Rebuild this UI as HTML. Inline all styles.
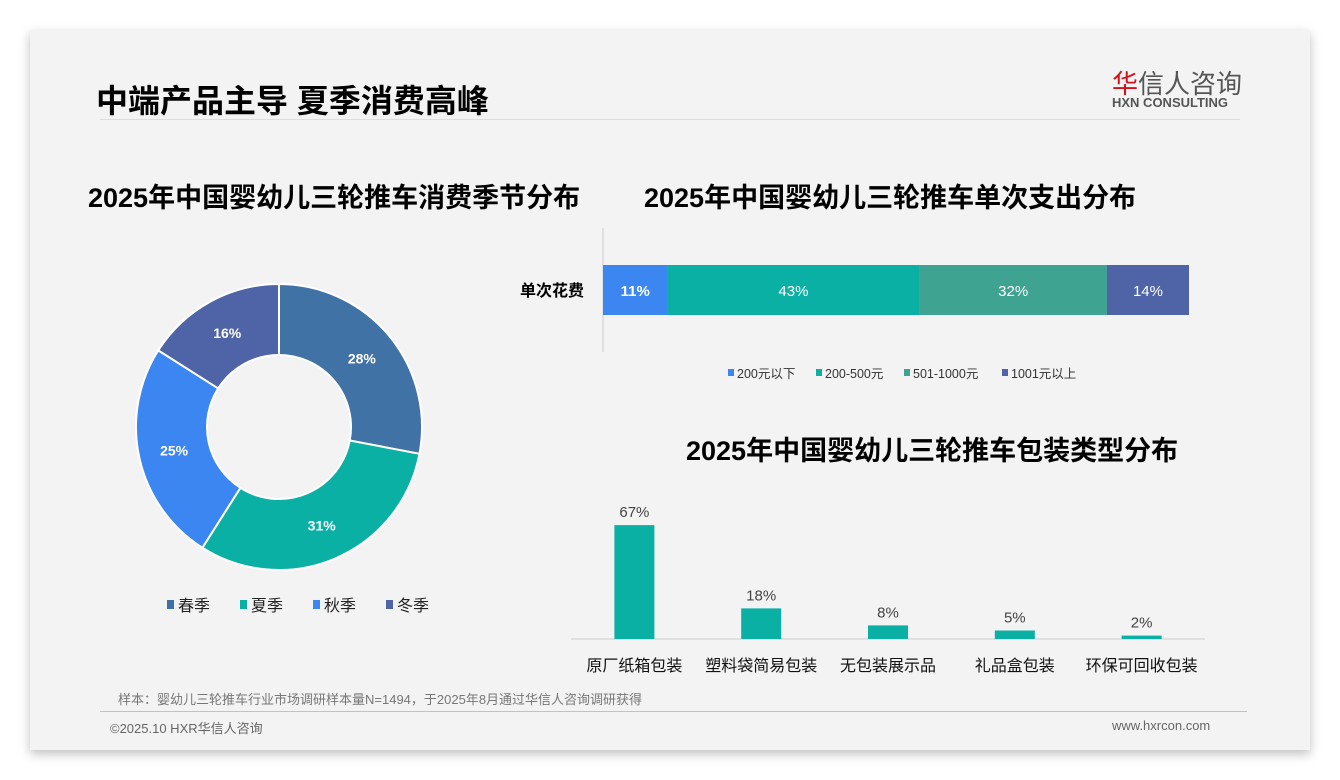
<!DOCTYPE html>
<html><head><meta charset="utf-8"><style>
body{margin:0;width:1340px;height:780px;background:#fff;position:relative;overflow:hidden;font-family:"Liberation Sans","Noto Sans CJK SC",sans-serif}
.card{position:absolute;left:30px;top:30px;width:1280px;height:720px;background:#f3f3f3;box-shadow:0 4px 10px rgba(0,0,0,.25)}
.t{position:absolute;white-space:nowrap}
</style></head><body>
<div class="card"></div>
<div class="t" style="left:96px;top:76px;font-size:32px;font-weight:bold;color:#000">中端产品主导 夏季消费高峰</div>
<div class="t" style="left:1112px;top:64px;font-size:26px;color:#555"><span style="color:#d0121b">华</span>信人咨询</div>
<div class="t" style="left:1112px;top:95px;font-size:13px;font-weight:bold;color:#555">HXN CONSULTING</div>
<div style="position:absolute;left:100px;top:119px;width:1140px;height:1px;background:#ddd"></div>
<div class="t" style="left:88px;top:176px;font-size:27px;font-weight:bold">2025年中国婴幼儿三轮推车消费季节分布</div>
<div class="t" style="left:644px;top:176px;font-size:27px;font-weight:bold">2025年中国婴幼儿三轮推车单次支出分布</div>
<div class="t" style="left:686px;top:429px;font-size:27px;font-weight:bold">2025年中国婴幼儿三轮推车包装类型分布</div>
<svg id="s" width="1340" height="780" style="position:absolute;left:0;top:0"></svg>
<div class="t" style="left:118px;top:689px;font-size:13px;color:#777">样本：婴幼儿三轮推车行业市场调研样本量N=1494，于2025年8月通过华信人咨询调研获得</div>
<div style="position:absolute;left:100px;top:711px;width:1147px;height:1px;background:#b8c4d4"></div>
<div class="t" style="left:110px;top:718px;font-size:13px;color:#666">©2025.10 HXR华信人咨询</div>
<div class="t" style="left:1112px;top:718px;font-size:13px;color:#666">www.hxrcon.com</div>
<script>
const seasons=['春季','夏季','秋季','冬季'];
const seasonVals=[28,31,25,16];
const seasonColors=['#4172a6','#0bb0a5','#3b86f0','#4e64a6'];
const spendCats=['200元以下','200-500元','501-1000元','1001元以上'];
const spendVals=[11,43,32,14];
const spendColors=['#3b86f0','#0bb0a5','#3ea390','#4e64a6'];
const packCats=['原厂纸箱包装','塑料袋简易包装','无包装展示品','礼品盒包装','环保可回收包装'];
const packVals=[67,18,8,5,2];
const S=document.getElementById('s'),NS='http://www.w3.org/2000/svg';
function mk(t,a,txt){const e=document.createElementNS(NS,t);for(const k in a)e.setAttribute(k,a[k]);if(txt!=null)e.textContent=txt;S.appendChild(e);return e;}
const cx=279,cy=427,R=143,r=72;let tot=seasonVals.reduce((a,b)=>a+b,0),a0=-Math.PI/2;
seasonVals.forEach((v,i)=>{const a1=a0+v/tot*2*Math.PI,lg=a1-a0>Math.PI?1:0;
const p=(rr,a)=>[cx+rr*Math.cos(a),cy+rr*Math.sin(a)];
const [x1,y1]=p(R,a0),[x2,y2]=p(R,a1),[x3,y3]=p(r,a1),[x4,y4]=p(r,a0);
const e=mk('path',{d:`M${x1},${y1}A${R},${R} 0 ${lg} 1 ${x2},${y2}L${x3},${y3}A${r},${r} 0 ${lg} 0 ${x4},${y4}Z`,fill:seasonColors[i],stroke:'#fff','stroke-width':2});


const am=(a0+a1)/2,[lx,ly]=p((R+r)/2,am);
const l=mk('text',{x:lx,y:ly+5,'text-anchor':'middle','font-size':14,'font-weight':'bold',fill:'#fff'},v+'%');


a0=a1;});
seasons.forEach((s,i)=>{const x=167+i*73;
const m=mk('rect',{x:x,y:600,width:7,height:9,fill:seasonColors[i]});


const t=mk('text',{x:x+11,y:611,'font-size':16,fill:'#222'},s);

});
const bx0=603,bw=586,sum=spendVals.reduce((a,b)=>a+b,0);let cur=bx0;
mk('line',{x1:603,y1:228,x2:603,y2:352,stroke:'#ccc'});
const yl=mk('text',{x:584,y:296,'text-anchor':'end','font-size':16,'font-weight':'bold'},'单次花费');


spendVals.forEach((v,i)=>{const w=v/sum*bw;
const e=mk('rect',{x:cur,y:265,width:w,height:50,fill:spendColors[i]});


const t=mk('text',{x:cur+w/2,y:296,'text-anchor':'middle','font-size':15,fill:'#fff','font-weight':i==0?'bold':'normal'},v+'%');


cur+=w;});
const lgOff=[0,88,176,274];
spendCats.forEach((c,i)=>{const m=mk('rect',{x:728+lgOff[i],y:369,width:6,height:7,fill:spendColors[i]});


const t=mk('text',{x:737+lgOff[i],y:378,'font-size':12.5,fill:'#333'},c);

});
const base=639,sc=1.7,x0=571,x1=1205,step=(x1-x0)/packCats.length;
mk('line',{x1:x0,y1:base,x2:x1,y2:base,stroke:'#ccc'});
packVals.forEach((v,i)=>{const c=x0+step*(i+0.5),h=v*sc;
const e=mk('rect',{x:c-20,y:base-h,width:40,height:h,fill:'#0bb0a5'});


const t=mk('text',{x:c,y:base-h-8,'text-anchor':'middle','font-size':15,fill:'#444'},v+'%');


const l=mk('text',{x:c,y:671,'text-anchor':'middle','font-size':16,fill:'#111'},packCats[i]);

});
</script>
</body></html>
